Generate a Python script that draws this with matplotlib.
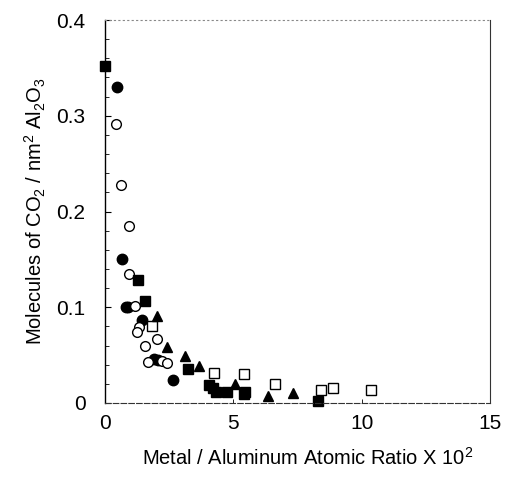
import matplotlib
matplotlib.use('Agg')
import matplotlib.pyplot as plt
from matplotlib.ticker import MultipleLocator

plt.rcParams['font.family'] = ['Liberation Sans', 'DejaVu Sans']
plt.rcParams['mathtext.default'] = 'regular'

# filled circles
fc_x = [0.46, 0.68, 0.81, 0.89, 1.46, 1.89, 2.06, 2.66]
fc_y = [0.330, 0.150, 0.1005, 0.100, 0.087, 0.0455, 0.045, 0.024]
# open circles
oc_x = [0.43, 0.61, 0.94, 0.95, 1.18, 1.33, 1.26, 2.02, 1.54, 1.69, 2.21, 2.41]
oc_y = [0.291, 0.228, 0.185, 0.135, 0.101, 0.079, 0.074, 0.067, 0.060, 0.043, 0.044, 0.042]
# filled squares
fs_x = [0.0, 1.29, 1.57, 3.22, 4.04, 4.19, 4.34, 4.75, 5.47, 5.40, 8.31]
fs_y = [0.352, 0.128, 0.1065, 0.0355, 0.0188, 0.016, 0.011, 0.012, 0.012, 0.009, 0.0025]
# open squares
os_x = [1.82, 4.23, 5.43, 6.64, 8.40, 8.89, 10.35]
os_y = [0.080, 0.031, 0.030, 0.020, 0.014, 0.016, 0.0136]
# filled triangles
ft_x = [2.02, 2.40, 3.13, 3.65, 5.08, 6.34, 7.32]
ft_y = [0.091, 0.058, 0.049, 0.0386, 0.0195, 0.007, 0.010]

yticks = [0, 0.1, 0.2, 0.3, 0.4]
ytick_labels = ['0', '0.1', '0.2', '0.3', '0.4']
xticks = [0, 5, 10, 15]
xtick_labels = ['0', '5', '10', '15']

fig = plt.figure(figsize=(5.08, 4.78), dpi=100)
ax = fig.add_axes([105/508, 1 - 403/478, 385/508, 383/478])

ms = 7.5
ax.plot(fc_x, fc_y, 'o', color='black', ms=ms, clip_on=False)
ax.plot(oc_x, oc_y, 'o', mfc='white', mec='black', mew=1.0, ms=ms - 0.5, clip_on=False)
ax.plot(fs_x, fs_y, 's', color='black', ms=ms - 0.8, clip_on=False)
ax.plot(os_x, os_y, 's', mfc='white', mec='black', mew=1.0, ms=ms - 0.8, clip_on=False)
ax.plot(ft_x, ft_y, '^', color='black', ms=ms - 0.8, clip_on=False)

ax.set_xlim(0, 15)
ax.set_ylim(0, 0.4)
ax.set_yticks(yticks)
ax.set_yticklabels(ytick_labels)
ax.yaxis.set_minor_locator(MultipleLocator(0.02))
ax.set_xticks(xticks)
ax.set_xticklabels(xtick_labels)

ax.tick_params(axis='y', which='major', direction='in', length=4, width=0.8,
               labelsize=15, pad=14)
ax.tick_params(axis='y', which='minor', direction='in', length=3, width=0.6)
ax.tick_params(axis='x', which='major', direction='in', length=3, width=0.6,
               labelsize=15, pad=8)

ax.spines['left'].set_linewidth(1.0)
ax.spines['right'].set_linewidth(0.8)
ax.spines['right'].set_color('#333333')
ax.spines['top'].set_linestyle((0, (1, 3)))
ax.spines['top'].set_color('#888888')
ax.spines['top'].set_linewidth(0.8)
ax.spines['bottom'].set_linestyle((0, (5, 2)))
ax.spines['bottom'].set_color('#333333')
ax.spines['bottom'].set_linewidth(0.8)

ax.set_ylabel(r'Molecules of CO$_2$ / nm$^2$ Al$_2$O$_3$', fontsize=14.5, labelpad=6)
ax.set_xlabel(r'Metal / Aluminum Atomic Ratio X 10$^2$', fontsize=14.5, labelpad=9)
ax.xaxis.set_label_coords((308 - 105) / 385, -0.115)

fig.savefig('out.png', dpi=100)
